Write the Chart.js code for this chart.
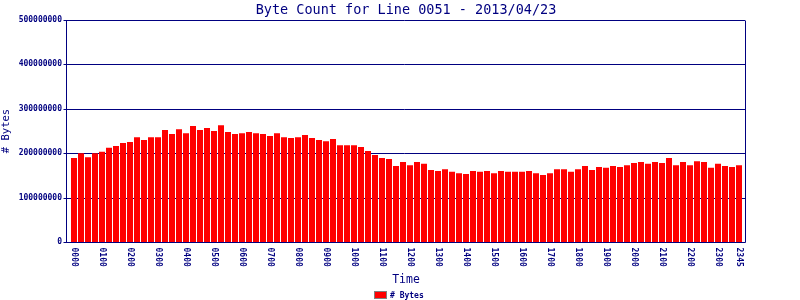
<!DOCTYPE html>
<html>
<head>
<meta charset="utf-8">
<title>Byte Count for Line 0051</title>
<script src="https://cdn.jsdelivr.net/npm/chart.js@4.4.1/dist/chart.umd.min.js"></script>
<style>
  html, body { margin: 0; padding: 0; background: #fff; }
  #wrap { width: 800px; height: 300px; }
</style>
</head>
<body>
<div id="wrap"><canvas id="byteChart" width="800" height="300"></canvas></div>
<script>
// data (15 minute buckets)
const chartTitle = 'Byte Count for Line 0051 - 2013/04/23';
const seriesName = '# Bytes';
const xTitle = 'Time';

const times = [
  '0000','0015','0030','0045','0100','0115','0130','0145',
  '0200','0215','0230','0245','0300','0315','0330','0345',
  '0400','0415','0430','0445','0500','0515','0530','0545',
  '0600','0615','0630','0645','0700','0715','0730','0745',
  '0800','0815','0830','0845','0900','0915','0930','0945',
  '1000','1015','1030','1045','1100','1115','1130','1145',
  '1200','1215','1230','1245','1300','1315','1330','1345',
  '1400','1415','1430','1445','1500','1515','1530','1545',
  '1600','1615','1630','1645','1700','1715','1730','1745',
  '1800','1815','1830','1845','1900','1915','1930','1945',
  '2000','2015','2030','2045','2100','2115','2130','2145',
  '2200','2215','2230','2245','2300','2315','2330','2345'
];

const byteCounts = [
  189000000, 200000000, 191000000, 200000000, 203000000, 212000000, 216000000, 223000000,
  225000000, 236000000, 230000000, 236000000, 236000000, 252000000, 243000000, 254000000,
  245000000, 261000000, 252000000, 257000000, 250000000, 263000000, 248000000, 243000000,
  245000000, 248000000, 245000000, 243000000, 239000000, 245000000, 236000000, 234000000,
  236000000, 241000000, 234000000, 230000000, 227000000, 232000000, 218000000, 218000000,
  218000000, 214000000, 205000000, 196000000, 189000000, 187000000, 171000000, 180000000,
  173000000, 180000000, 176000000, 162000000, 160000000, 164000000, 158000000, 155000000,
  153000000, 160000000, 158000000, 160000000, 155000000, 160000000, 158000000, 158000000,
  158000000, 160000000, 155000000, 151000000, 155000000, 164000000, 164000000, 158000000,
  164000000, 171000000, 162000000, 169000000, 167000000, 171000000, 169000000, 173000000,
  178000000, 180000000, 176000000, 180000000, 178000000, 189000000, 173000000, 180000000,
  173000000, 182000000, 180000000, 167000000, 176000000, 171000000, 169000000, 173000000
];

const xTickLabels = [
  '0000','0100','0200','0300','0400','0500','0600','0700','0800','0900','1000','1100',
  '1200','1300','1400','1500','1600','1700','1800','1900','2000','2100','2200','2300','2345'
];

const yMax = 500000000;
const yStep = 100000000;

const NAVY = '#000080';
const RED = '#ff0000';
const MONO = '"DejaVu Sans Mono", "Liberation Mono", monospace';

// frame, gridlines and the texts drawn in the old gif style
const framePlugin = {
  id: 'frame',
  beforeDatasetsDraw(chart) {
    const { ctx, chartArea, scales: { y } } = chart;
    const left = chartArea.left - 4;
    const right = chartArea.right + 2.5;
    ctx.save();
    ctx.strokeStyle = NAVY;
    ctx.lineWidth = 1;
    y.ticks.forEach(t => {
      const py = Math.round(y.getPixelForValue(t.value)) + 0.5;
      ctx.beginPath();
      ctx.moveTo(left - 3, py);
      ctx.lineTo(right, py);
      ctx.stroke();
    });
    ctx.restore();
  },
  afterDatasetsDraw(chart) {
    const { ctx, chartArea, scales: { x, y } } = chart;
    const left = Math.floor(chartArea.left - 4) + 0.5;
    const right = Math.floor(chartArea.right + 2.5) + 0.5;
    const bottom = Math.round(y.getPixelForValue(0)) + 0.5;
    const top = Math.round(y.getPixelForValue(yMax)) + 0.5;
    const mid = (left + right) / 2;

    ctx.save();
    ctx.strokeStyle = NAVY;
    ctx.lineWidth = 1;
    ctx.beginPath();
    ctx.moveTo(left, top); ctx.lineTo(left, bottom);
    ctx.lineTo(right, bottom); ctx.lineTo(right, top);
    ctx.stroke();

    ctx.fillStyle = NAVY;

    // title
    ctx.font = '13.5px ' + MONO;
    ctx.textAlign = 'center';
    ctx.textBaseline = 'alphabetic';
    ctx.fillText(chartTitle, mid, 13.5);

    // x tick labels, turned clockwise
    ctx.font = 'bold 8px ' + MONO;
    ctx.textAlign = 'left';
    ctx.textBaseline = 'middle';
    times.forEach((t, i) => {
      if (!xTickLabels.includes(t)) return;
      const px = x.getPixelForValue(i);
      ctx.save();
      ctx.translate(px, 247.5);
      ctx.rotate(Math.PI / 2);
      ctx.fillText(t, 0, 0);
      ctx.restore();
    });

    // x title
    ctx.font = '11.5px ' + MONO;
    ctx.textAlign = 'center';
    ctx.textBaseline = 'alphabetic';
    ctx.fillText(xTitle, mid, 282.5);

    // legend
    const ds = chart.data.datasets[0];
    ctx.fillStyle = ds.backgroundColor;
    ctx.fillRect(374, 291, 13, 8);
    ctx.strokeStyle = '#808080';
    ctx.strokeRect(374.5, 291.5, 12, 7);
    ctx.fillStyle = NAVY;
    ctx.font = 'bold 8px ' + MONO;
    ctx.textAlign = 'left';
    ctx.fillText(ds.label, 390, 297.5);
    ctx.restore();
  }
};

document.addEventListener('DOMContentLoaded', function () {
  const ctx = document.getElementById('byteChart').getContext('2d');
  new Chart(ctx, {
    type: 'bar',
    data: {
      labels: times,
      datasets: [{
        label: seriesName,
        data: byteCounts,
        backgroundColor: RED,
        borderWidth: 0,
        categoryPercentage: 1,
        barPercentage: 6 / 7
      }]
    },
    options: {
      responsive: false,
      animation: false,
      devicePixelRatio: 1,
      layout: { padding: { top: 20, right: 57.5, bottom: 58, left: 0 } },
      plugins: {
        legend: { display: false },
        title: { display: false },
        tooltip: { enabled: false }
      },
      scales: {
        x: { display: false },
        y: {
          min: 0,
          max: yMax,
          afterFit(scale) { scale.width = 70.5; },
          grid: { display: false, drawTicks: false },
          border: { display: false },
          ticks: {
            stepSize: yStep,
            padding: 8.5,
            color: NAVY,
            font: { family: MONO, size: 8, weight: 'bold' },
            callback: v => String(v)
          },
          title: {
            display: true,
            text: seriesName,
            color: NAVY,
            padding: 0,
            font: { family: MONO, size: 10.5 }
          }
        }
      }
    },
    plugins: [framePlugin]
  });
});
</script>
</body>
</html>
